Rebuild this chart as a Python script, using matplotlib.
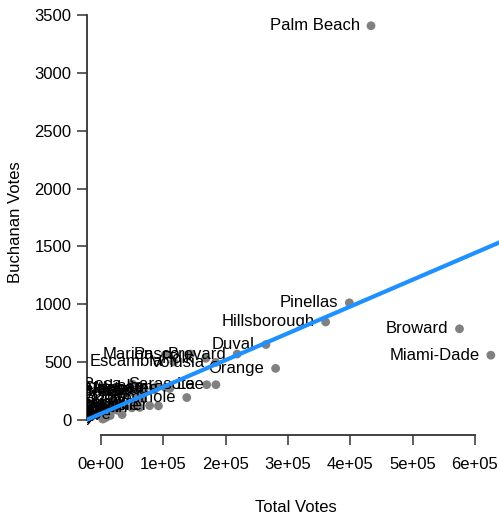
import matplotlib
matplotlib.use("Agg")
import matplotlib.pyplot as plt
import numpy as np

counties = ["Alachua", "Baker", "Bay", "Bradford", "Brevard", "Broward", "Calhoun",
            "Charlotte", "Citrus", "Clay", "Collier", "Columbia", "DeSoto", "Dixie",
            "Duval", "Escambia", "Flagler", "Franklin", "Gadsden", "Gilchrist", "Glades",
            "Gulf", "Hamilton", "Hardee", "Hendry", "Hernando", "Highlands", "Hillsborough",
            "Holmes", "Indian River", "Jackson", "Jefferson", "Lafayette", "Lake", "Lee",
            "Leon", "Levy", "Liberty", "Madison", "Manatee", "Marion", "Martin",
            "Miami-Dade", "Monroe", "Nassau", "Okaloosa", "Okeechobee", "Orange", "Osceola",
            "Palm Beach", "Pasco", "Pinellas", "Polk", "Putnam", "St. Johns", "St. Lucie",
            "Santa Rosa", "Sarasota", "Seminole", "Sumter", "Suwannee", "Taylor", "Union",
            "Volusia", "Wakulla", "Walton", "Washington"]

total_votes = [85729, 8154, 58805, 8673, 218395, 575143, 4983,
               66896, 57204, 57353, 92162, 20880, 9465, 4674,
               264636, 116648, 27111, 4644, 14727, 5395, 3365,
               5643, 3964, 6233, 8139, 50909, 35149, 360395,
               7395, 49622, 16300, 5643, 2505, 88611, 184377,
               103124, 12724, 2410, 6162, 110221, 102956, 62013,
               625449, 33887, 23780, 69293, 10911, 280125, 55546,
               433186, 143993, 398472, 168000, 26222, 60746, 77989,
               50319, 169581, 137634, 22261, 12457, 6808, 3826,
               184046, 8587, 18318, 7936]

buchanan_votes = [262, 73, 248, 65, 570, 788, 90,
                  182, 270, 186, 122, 89, 36, 29,
                  652, 502, 83, 33, 38, 29, 9,
                  71, 24, 30, 22, 242, 127, 847,
                  76, 105, 102, 29, 10, 289, 305,
                  282, 67, 39, 29, 272, 563, 108,
                  560, 47, 90, 267, 43, 446, 145,
                  3407, 570, 1013, 533, 148, 229, 124,
                  311, 305, 194, 114, 108, 27, 37,
                  498, 46, 120, 88]

x_ticks = [0, 100000, 200000, 300000, 400000, 500000, 600000]
x_tick_labels = ["0e+00", "1e+05", "2e+05", "3e+05", "4e+05", "5e+05", "6e+05"]
y_ticks = [0, 500, 1000, 1500, 2000, 2500, 3000, 3500]

plt.rcParams["font.family"] = ["Liberation Sans", "DejaVu Sans"]
W, H = 499, 514
fig = plt.figure(figsize=(W / 100, H / 100), dpi=100)
ax_left, ax_right, ax_top, ax_bottom = 87, 499, 0, 435
ax = fig.add_axes([ax_left / W, 1 - ax_bottom / H, (ax_right - ax_left) / W, (ax_bottom - ax_top) / H])

# pixel mapping
px_per_x = 62.33 / 100000
x0_px = 101
xmin = (ax_left - x0_px) / px_per_x
xmax = (ax_right - x0_px) / px_per_x
px_per_y = 115.71 / 1000
y0_px = 420
ymin = -(ax_bottom - y0_px) / px_per_y
ymax = (y0_px - ax_top) / px_per_y
ax.set_xlim(xmin, xmax)
ax.set_ylim(ymin, ymax)

tv = np.array(total_votes, dtype=float)
bv = np.array(buchanan_votes, dtype=float)

ax.scatter(tv, bv, s=40, color="#808080", edgecolors="none", zorder=2)
for name, x, y in zip(counties, tv, bv):
    ax.annotate(name, (x, y), xytext=(-8, 0), textcoords="offset points",
                ha="right", va="center", fontsize=12, color="black",
                annotation_clip=False, clip_on=True, zorder=3)

slope, intercept = np.polyfit(tv, bv, 1)
xs = np.array([xmin, xmax])
ax.plot(xs, intercept + slope * xs, color="#1E90FF", lw=3, zorder=4, clip_on=True)

for s in ["top", "right"]:
    ax.spines[s].set_visible(False)
ax.spines["left"].set_bounds(0, 3500)
ax.spines["bottom"].set_bounds(0, 600000)
for s in ["left", "bottom"]:
    ax.spines[s].set_color("#333333")
    ax.spines[s].set_linewidth(1.3)

ax.set_xticks(x_ticks)
ax.set_xticklabels(x_tick_labels)
ax.set_yticks(y_ticks)
ax.set_yticklabels([str(v) for v in y_ticks])
ax.tick_params(axis="both", colors="#333333", labelcolor="black", labelsize=12,
               length=7, width=1.1)
ax.tick_params(axis="x", pad=9)
ax.tick_params(axis="y", pad=4)

fig.text(296 / W, 1 - 507 / H, "Total Votes", ha="center", va="center", fontsize=12)
fig.text(16 / W, 1 - 222 / H, "Buchanan Votes", ha="center", va="center", fontsize=12, rotation=90)

fig.savefig("out.png", dpi=100)
